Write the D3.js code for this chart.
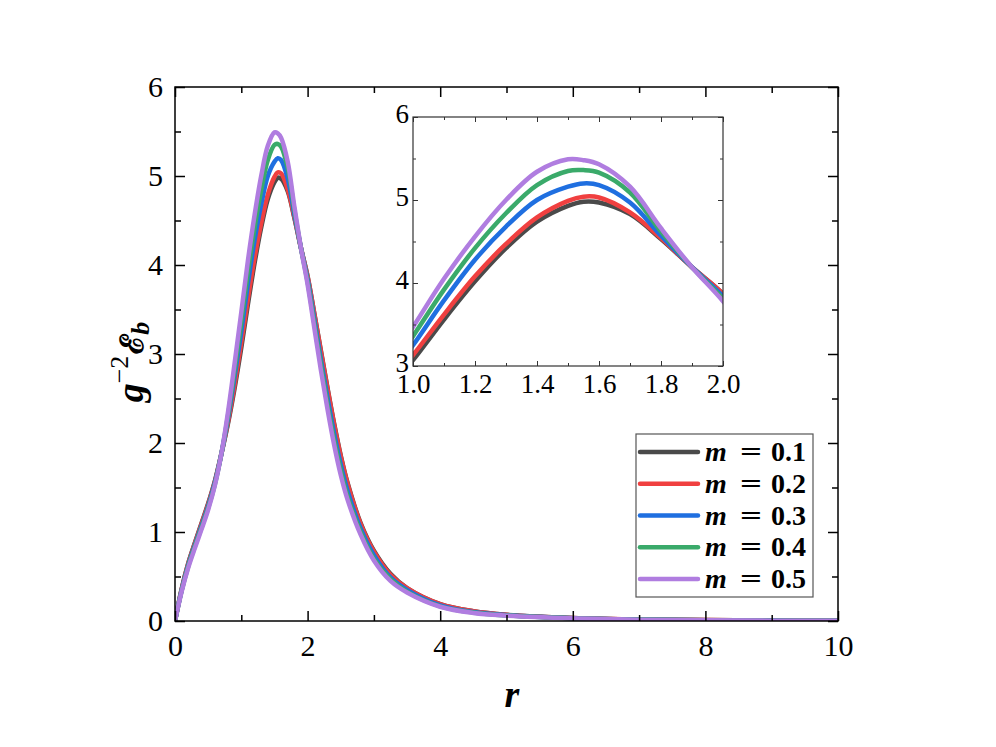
<!DOCTYPE html>
<html>
<head>
<meta charset="utf-8">
<script src="https://cdn.jsdelivr.net/npm/d3@7"></script>
<style>
  body { margin: 0; background: #fff; }
  text { font-family: "Liberation Serif", "Times New Roman", serif; }
</style>
</head>
<body>
<div id="chart"></div>
<script>
// r grid shared by all curves
var rValues = [0,0.1,0.2,0.3,0.4,0.5,0.6,0.7,0.8,0.9,1.0,1.1,1.2,1.3,1.4,1.5,1.55,1.6,1.7,1.8,1.9,2.0,2.1,2.2,2.3,2.4,2.5,2.6,2.8,3.0,3.25,3.5,4,4.5,5,6,7,8,9,10];

// g^-2 E_b, one list per m
var m01 = [0,0.36,0.65,0.88,1.10,1.32,1.57,1.88,2.22,2.62,3.07,3.56,4.02,4.42,4.74,4.93,4.98,4.97,4.83,4.53,4.19,3.87,3.46,3.04,2.62,2.22,1.86,1.56,1.10,0.79,0.53,0.37,0.19,0.11,0.07,0.035,0.018,0.010,0.005,0.003];
var m02 = [0,0.355,0.645,0.87,1.09,1.31,1.56,1.88,2.24,2.66,3.13,3.62,4.08,4.47,4.79,4.99,5.04,5.03,4.85,4.54,4.19,3.87,3.46,3.03,2.61,2.21,1.85,1.55,1.09,0.78,0.52,0.37,0.19,0.11,0.07,0.034,0.018,0.010,0.005,0.003];
var m03 = [0,0.345,0.63,0.855,1.07,1.29,1.55,1.88,2.28,2.75,3.25,3.79,4.28,4.68,5.00,5.16,5.20,5.18,4.97,4.57,4.19,3.84,3.40,2.94,2.51,2.11,1.76,1.47,1.04,0.74,0.49,0.35,0.175,0.10,0.065,0.032,0.017,0.009,0.0045,0.0025];
var m04 = [0,0.34,0.615,0.84,1.05,1.27,1.53,1.88,2.31,2.82,3.36,3.92,4.42,4.84,5.18,5.35,5.36,5.33,5.09,4.62,4.19,3.81,3.35,2.88,2.44,2.04,1.70,1.41,1.00,0.70,0.47,0.33,0.165,0.095,0.062,0.031,0.016,0.0085,0.004,0.002];
var m05 = [0,0.33,0.60,0.82,1.03,1.25,1.52,1.88,2.35,2.90,3.47,4.05,4.56,5.00,5.34,5.49,5.48,5.43,5.16,4.66,4.19,3.78,3.30,2.82,2.38,1.98,1.64,1.37,0.97,0.68,0.45,0.32,0.16,0.09,0.06,0.03,0.015,0.008,0.004,0.002];

var seriesNames = ["0.1","0.2","0.3","0.4","0.5"];
var seriesValues = [m01, m02, m03, m04, m05];
var colors = ["#4a4a4a","#f04040","#1f6fe0","#3aaa6a","#b07de0"];

var xTicks = [0,2,4,6,8,10];
var yTicks = [0,1,2,3,4,5,6];
var insetXTicks = [1.0,1.2,1.4,1.6,1.8,2.0];
var insetYTicks = [3,4,5,6];

var width = 996, height = 747;
var svg = d3.select("#chart").append("svg")
  .attr("width", width).attr("height", height);

var series = seriesValues.map(function(vals, i) {
  return { name: seriesNames[i], color: colors[i],
    points: rValues.map(function(r, j) { return [r, vals[j]]; }) };
});

// ---- main plot ----
var x = d3.scaleLinear().domain([0, 10]).range([175, 838]);
var y = d3.scaleLinear().domain([0, 6]).range([621, 87]);

svg.append("clipPath").attr("id", "mainClip")
  .append("rect").attr("x", 175).attr("y", 87).attr("width", 663).attr("height", 534);

var line = d3.line().curve(d3.curveCatmullRom.alpha(0.5))
  .x(function(d) { return x(d[0]); })
  .y(function(d) { return y(d[1]); });

svg.append("g").attr("clip-path", "url(#mainClip)")
  .selectAll("path").data(series).enter().append("path")
  .attr("d", function(d) { return line(d.points); })
  .attr("fill", "none")
  .attr("stroke", function(d) { return d.color; })
  .attr("stroke-width", 4.5)
  .attr("stroke-linejoin", "round");

function fmtInt(d) { return d3.format("d")(d); }

// inward ticks on all four sides
var xMinor = d3.range(1, 10, 2);
var yMinor = d3.range(0.5, 6, 1);

svg.append("g").attr("transform", "translate(0,621)")
  .call(d3.axisBottom(x).tickValues(xMinor).tickSize(-6).tickFormat(""));
svg.append("g").attr("class", "xaxis").attr("transform", "translate(0,621)")
  .call(d3.axisBottom(x).tickValues(xTicks).tickSize(-10).tickPadding(24).tickFormat(fmtInt));
svg.append("g").attr("transform", "translate(0,87)")
  .call(d3.axisTop(x).tickValues(xMinor).tickSize(-6).tickFormat(""));
svg.append("g").attr("transform", "translate(0,87)")
  .call(d3.axisTop(x).tickValues(xTicks).tickSize(-10).tickFormat(""));

svg.append("g").attr("transform", "translate(175,0)")
  .call(d3.axisLeft(y).tickValues(yMinor).tickSize(-6).tickFormat(""));
svg.append("g").attr("class", "yaxis").attr("transform", "translate(175,0)")
  .call(d3.axisLeft(y).tickValues(yTicks).tickSize(-10).tickPadding(12).tickFormat(fmtInt));
svg.append("g").attr("transform", "translate(838,0)")
  .call(d3.axisRight(y).tickValues(yMinor).tickSize(-6).tickFormat(""));
svg.append("g").attr("transform", "translate(838,0)")
  .call(d3.axisRight(y).tickValues(yTicks).tickSize(-10).tickFormat(""));

svg.selectAll(".domain").remove();
svg.selectAll(".tick line").attr("stroke", "#000").attr("stroke-width", 1.5);
svg.selectAll(".xaxis text, .yaxis text")
  .attr("font-size", 30).attr("fill", "#000");
svg.selectAll(".xaxis text").attr("dy", "0.35em");

svg.append("rect").attr("x", 175).attr("y", 87).attr("width", 663).attr("height", 534)
  .attr("fill", "none").attr("stroke", "#000").attr("stroke-width", 1.5);

// ---- inset ----
var xi = d3.scaleLinear().domain([1, 2]).range([413, 723]);
var yi = d3.scaleLinear().domain([3, 6]).range([366, 117]);

svg.append("rect").attr("x", 413).attr("y", 117).attr("width", 310).attr("height", 249)
  .attr("fill", "#fff");
svg.append("clipPath").attr("id", "insetClip")
  .append("rect").attr("x", 413).attr("y", 117).attr("width", 310).attr("height", 249);

var lineInset = d3.line().curve(d3.curveCatmullRom.alpha(0.5))
  .x(function(d) { return xi(d[0]); })
  .y(function(d) { return yi(d[1]); });

svg.append("g").attr("clip-path", "url(#insetClip)")
  .selectAll("path").data(series).enter().append("path")
  .attr("d", function(d) { return lineInset(d.points); })
  .attr("fill", "none")
  .attr("stroke", function(d) { return d.color; })
  .attr("stroke-width", 4.5)
  .attr("stroke-linejoin", "round");

var inset = svg.append("g").attr("class", "inset");
var xiMinor = [1.1, 1.3, 1.5, 1.7, 1.9];
var yiMinor = [3.5, 4.5, 5.5];

inset.append("g").attr("transform", "translate(0,366)")
  .call(d3.axisBottom(xi).tickValues(xiMinor).tickSize(-3).tickFormat(""));
inset.append("g").attr("class", "ixaxis").attr("transform", "translate(0,366)")
  .call(d3.axisBottom(xi).tickValues(insetXTicks).tickSize(-5).tickPadding(11).tickFormat(d3.format(".1f")));
inset.append("g").attr("transform", "translate(0,117)")
  .call(d3.axisTop(xi).tickValues(xiMinor).tickSize(-3).tickFormat(""));
inset.append("g").attr("transform", "translate(0,117)")
  .call(d3.axisTop(xi).tickValues(insetXTicks).tickSize(-5).tickFormat(""));
inset.append("g").attr("transform", "translate(413,0)")
  .call(d3.axisLeft(yi).tickValues(yiMinor).tickSize(-3).tickFormat(""));
inset.append("g").attr("class", "iyaxis").attr("transform", "translate(413,0)")
  .call(d3.axisLeft(yi).tickValues(insetYTicks).tickSize(-5).tickPadding(4).tickFormat(fmtInt));
inset.append("g").attr("transform", "translate(723,0)")
  .call(d3.axisRight(yi).tickValues(yiMinor).tickSize(-3).tickFormat(""));
inset.append("g").attr("transform", "translate(723,0)")
  .call(d3.axisRight(yi).tickValues(insetYTicks).tickSize(-5).tickFormat(""));

inset.selectAll(".domain").remove();
inset.selectAll(".tick line").attr("stroke", "#333").attr("stroke-width", 1);
inset.selectAll(".ixaxis text, .iyaxis text")
  .attr("font-size", 27).attr("fill", "#000");
inset.selectAll(".ixaxis text").attr("dy", "0.6em");
inset.selectAll(".iyaxis text").attr("dy", "0.22em");

svg.append("rect").attr("x", 413).attr("y", 117).attr("width", 310).attr("height", 249)
  .attr("fill", "none").attr("stroke", "#333").attr("stroke-width", 1.2);

// ---- legend ----
var legend = svg.append("g").attr("class", "legend");
legend.append("rect").attr("x", 636).attr("y", 434).attr("width", 177).attr("height", 163)
  .attr("fill", "#fff").attr("stroke", "#555").attr("stroke-width", 1.2);

var rowY = d3.scalePoint().domain(seriesNames).range([452, 579]);
var rows = legend.selectAll(".row").data(series).enter().append("g")
  .attr("transform", function(d) { return "translate(0," + rowY(d.name) + ")"; });
rows.append("line").attr("x1", 640).attr("x2", 698).attr("y1", 0).attr("y2", 0)
  .attr("stroke", function(d) { return d.color; })
  .attr("stroke-width", 4.5).attr("stroke-linecap", "round");
rows.append("text").attr("x", 705).attr("y", 9)
  .attr("font-size", 28).attr("font-style", "italic").attr("font-weight", "bold")
  .text("m");
rows.append("text").attr("x", 740).attr("y", 9)
  .attr("font-size", 28).attr("font-weight", "bold")
  .attr("textLength", 22).attr("lengthAdjust", "spacingAndGlyphs").text("=");
rows.append("text").attr("x", 771).attr("y", 9)
  .attr("font-size", 28).attr("font-weight", "bold")
  .text(function(d) { return d.name; });

// ---- axis titles ----
svg.append("text").attr("x", 512).attr("y", 707).attr("text-anchor", "middle")
  .attr("font-size", 38).attr("font-style", "italic").attr("font-weight", "bold")
  .text("r");

var ylab = svg.append("text")
  .attr("transform", "translate(143,362) rotate(-90)")
  .attr("text-anchor", "middle")
  .attr("font-size", 38).attr("font-weight", "bold");
ylab.append("tspan").attr("font-style", "italic").text("g");
ylab.append("tspan").attr("font-size", 26).attr("font-weight", "normal").attr("dy", -15).text("\u22122");
ylab.append("tspan").attr("dy", 15).attr("dx", 2).attr("font-family", "DejaVu Serif").attr("font-size", 32).text("\u2130");
ylab.append("tspan").attr("font-style", "italic").attr("font-size", 26).attr("dy", 6).text("b");
</script>
</body>
</html>
